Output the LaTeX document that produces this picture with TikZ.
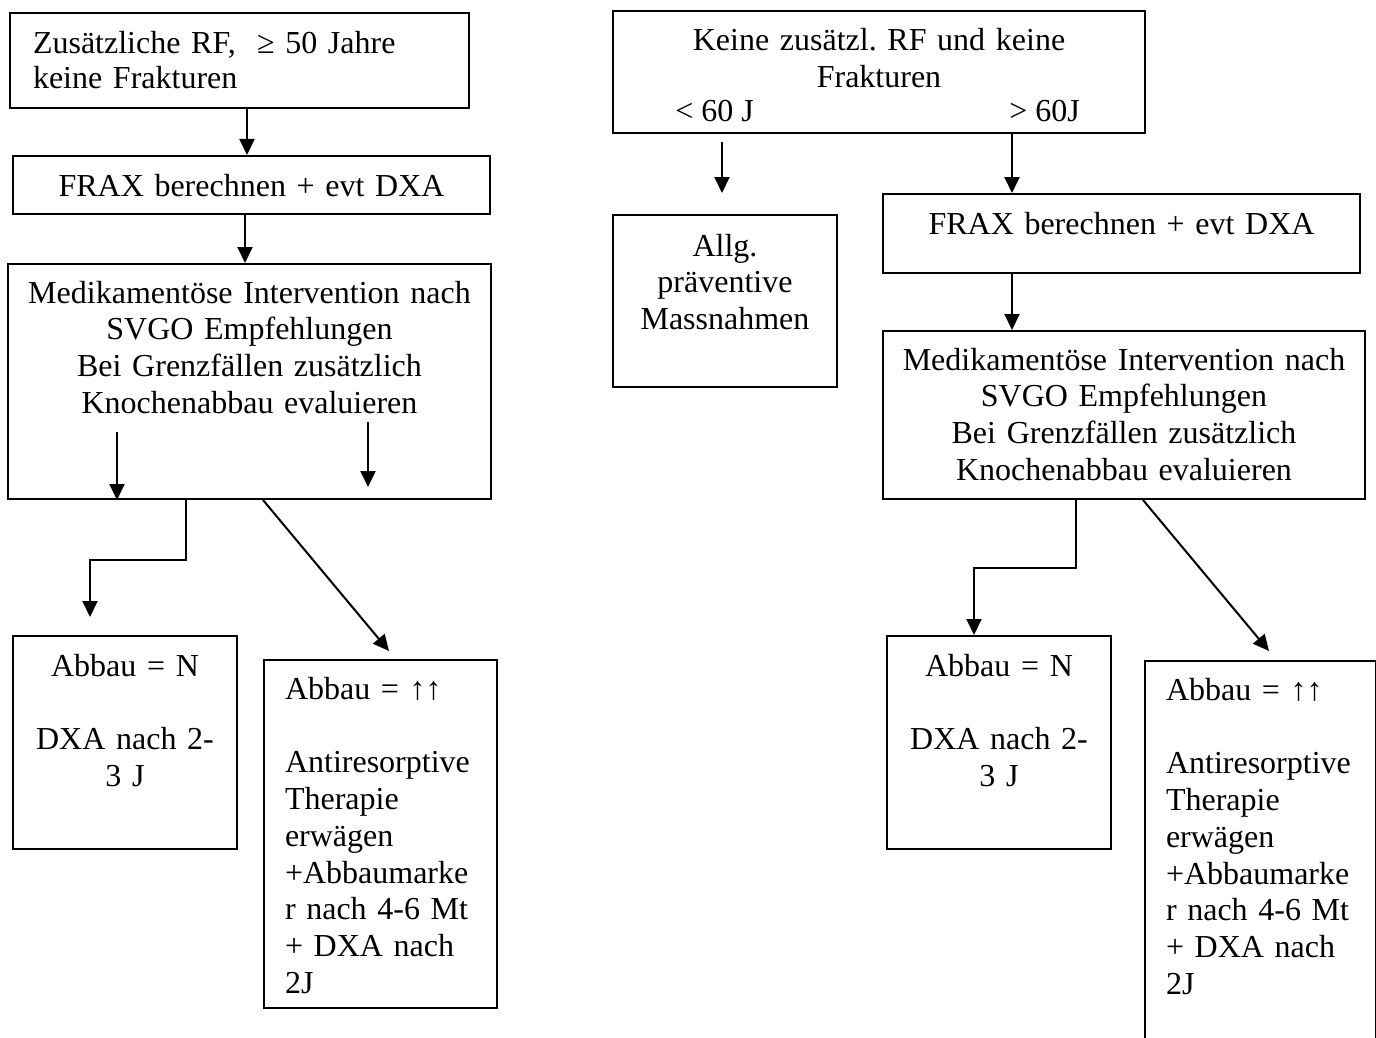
\documentclass[tikz,border=0pt]{standalone}
\usepackage{fontspec}
\setmainfont{Liberation Serif}
\usetikzlibrary{arrows.meta}
\frenchspacing

\begin{document}
\begin{tikzpicture}[
  x=0.5pt, y=-0.5pt,
  box/.style={
    draw, line width=1pt, inner xsep=0pt, inner ysep=0pt,
    anchor=north west, align=center,
    font=\fontsize{16pt}{18.4pt}\selectfont
  },
  boxsize/.style n args={3}{text width=#1, text height=#2, text depth=#3},
  leftbox/.style={box, align=left, inner xsep=10.5pt},
  lbl/.style={inner sep=0pt, anchor=base west, font=\fontsize{16pt}{18.4pt}\selectfont},
  arrow/.style={-{Triangle[length=8pt, width=7.5pt]}, line width=1pt}
]
  \useasboundingbox (0,0) rectangle (1376,1038);
  \clip (0,0) rectangle (1376,1038);

  \node[leftbox, boxsize={206.5pt}{20.5pt}{27pt}, inner xsep=11.5pt,
        font=\fontsize{16pt}{17.5pt}\selectfont] (a1) at (9,12)
        {Zusätzliche RF,\ \ ≥ 50 Jahre\\keine Frakturen};
  \node[box, boxsize={238.5pt}{20pt}{9pt}] (a2) at (12,155) {FRAX berechnen + evt DXA};
  \node[box, boxsize={241.5pt}{19.5pt}{98pt}] (a3) at (7,263)
        {Medikamentöse Intervention nach\\SVGO Empfehlungen\\Bei Grenzfällen zusätzlich\\Knochenabbau evaluieren};
  \node[box, boxsize={112pt}{20pt}{86.5pt}] (a4) at (12,635) {Abbau = N\\[18.4pt]DXA nach 2-\\3 J};
  \node[leftbox, boxsize={95.5pt}{19.5pt}{154.5pt}] (a5) at (263,659)
        {Abbau = ↑↑\\[18.4pt]Antiresorptive\\Therapie\\erwägen\\+Abbaumarke\\r nach 4-6 Mt\\+ DXA nach\\2J};

  \node[box, boxsize={266pt}{20pt}{41pt}] (b1) at (612,10) {Keine zusätzl. RF und keine\\Frakturen};
  \node[lbl] (lt) at (675,122) {< 60 J};
  \node[lbl] (gt) at (1009,122) {> 60J};
  \node[box, boxsize={112pt}{20.5pt}{65.5pt}] (b3) at (612,214) {Allg.\\präventive\\Massnahmen};
  \node[box, boxsize={238.5pt}{20pt}{19.5pt}] (b2) at (882,193) {FRAX berechnen + evt DXA};
  \node[box, boxsize={241pt}{19.5pt}{64.5pt}] (b4) at (882,330)
        {Medikamentöse Intervention nach\\SVGO Empfehlungen\\Bei Grenzfällen zusätzlich\\Knochenabbau evaluieren};
  \node[box, boxsize={112pt}{20pt}{86.5pt}] (b5) at (886,635) {Abbau = N\\[18.4pt]DXA nach 2-\\3 J};
  \node[leftbox, boxsize={94.5pt}{19.5pt}{200pt}] (b6) at (1144,660)
        {Abbau = ↑↑\\[18.4pt]Antiresorptive\\Therapie\\erwägen\\+Abbaumarke\\r nach 4-6 Mt\\+ DXA nach\\2J};

  \coordinate (ia) at (117,432);
  \coordinate (ib) at (368,422);
  \coordinate (ib2) at (368,487);
  \coordinate (ea) at (90,617);
  \coordinate (da) at (389,651);
  \coordinate (rc) at (722,142);
  \coordinate (rd) at (722,193);
  \coordinate (db) at (1269,651);

  \draw[arrow] (a1.south -| 247,0) -- (a2.north -| 247,0);
  \draw[arrow] (a2.south -| 245,0) -- (a3.north -| 245,0);
  \draw[arrow] (ia) -- (a3.south -| ia);
  \draw[arrow] (ib) -- (ib2);
  \draw[arrow] (a3.south -| 186,0) -- ++(0,60) -| (ea);
  \draw[arrow] (a3.south -| 263,0) -- (da);

  \draw[arrow] (rc) -- (rd);
  \draw[arrow] (b1.south -| 1012,0) -- (b2.north -| 1012,0);
  \draw[arrow] (b2.south -| 1012,0) -- (b4.north -| 1012,0);
  \draw[arrow] (b4.south -| 1076,0) -- ++(0,68) -| (b5.north -| 974,0);
  \draw[arrow] (b4.south -| 1143,0) -- (db);
\end{tikzpicture}
\end{document}
